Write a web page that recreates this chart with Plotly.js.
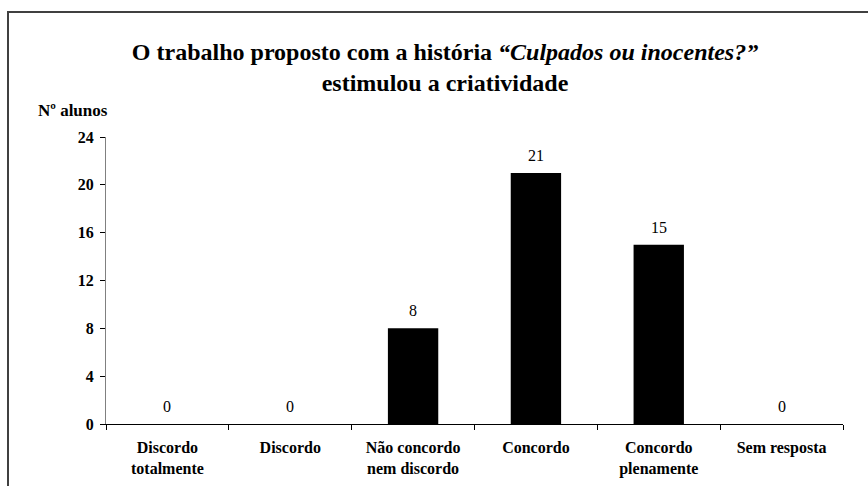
<!DOCTYPE html>
<html>
<head>
<meta charset="utf-8">
<script src="https://cdn.plot.ly/plotly-3.0.1.min.js"></script>
<style>html,body{margin:0;padding:0;background:#fff;}#chart{width:868px;height:486px;}</style>
</head>
<body>
<div id="chart"></div>
<script>
const categories = ["Discordo<br>totalmente", "Discordo", "Não concordo<br>nem discordo", "Concordo", "Concordo<br>plenamente", "Sem resposta"];
const values = [0, 0, 8, 21, 15, 0];
const yTicks = [0, 4, 8, 12, 16, 20, 24];

const serif = "Liberation Serif, Times New Roman, serif";

const trace = {
  type: 'bar',
  x: categories,
  y: values,
  width: 0.41,
  marker: {color: '#000000', line: {width: 0}},
  hoverinfo: 'none'
};

const labels = categories.map((c, i) => ({
  x: c, y: values[i], xref: 'x', yref: 'y',
  text: String(values[i]), showarrow: false,
  yanchor: 'bottom', yshift: 7,
  font: {family: serif, size: 16, color: '#000'}
}));

labels.push({
  xref: 'paper', yref: 'paper', x: (36 - 106) / 737, y: 1 + (137 - 110) / 287,
  xanchor: 'left', yanchor: 'middle', showarrow: false,
  text: '<b>Nº alunos</b>', font: {family: serif, size: 17, color: '#000'}
});

const layout = {
  width: 868, height: 486,
  font: {family: serif},
  margin: {l: 106, r: 25, t: 137, b: 62},
  paper_bgcolor: '#fff', plot_bgcolor: '#fff',
  showlegend: false,
  title: {
    text: '<b>O trabalho proposto com a história <i>“Culpados ou inocentes?”</i><br>estimulou a criatividade</b>',
    x: 445 / 868, xanchor: 'center', y: 1 - 60 / 486, yanchor: 'top',
    font: {family: serif, size: 24, color: '#000'}
  },
  xaxis: {
    type: 'category',
    showline: true, linecolor: '#000', linewidth: 1,
    ticks: 'outside', tickson: 'boundaries', ticklen: 5, tickcolor: '#000',
    ticklabelstandoff: 9,
    showgrid: false, zeroline: false,
    tickfont: {family: serif, size: 16, color: '#000', weight: 'bold'},
    fixedrange: true
  },
  yaxis: {
    range: [0, 24], tickvals: yTicks, ticktext: yTicks.map(v => '<b>' + v + '</b>'),
    showline: true, linecolor: '#808080', linewidth: 1,
    ticks: 'outside', ticklen: 5, tickcolor: '#000',
    ticklabelstandoff: 3,
    showgrid: false, zeroline: false,
    tickfont: {family: serif, size: 16, color: '#000'},
    fixedrange: true
  },
  annotations: labels,
  shapes: [{
    type: 'rect', xref: 'paper', yref: 'paper',
    x0: (8 - 106) / 737, x1: (900 - 106) / 737,
    y0: -0.5, y1: 1 + (137 - 12) / 287,
    line: {color: '#404040', width: 2}, fillcolor: 'rgba(0,0,0,0)', layer: 'below'
  }]
};

Plotly.newPlot('chart', [trace], layout, {displayModeBar: false, staticPlot: true});
</script>
</body>
</html>
